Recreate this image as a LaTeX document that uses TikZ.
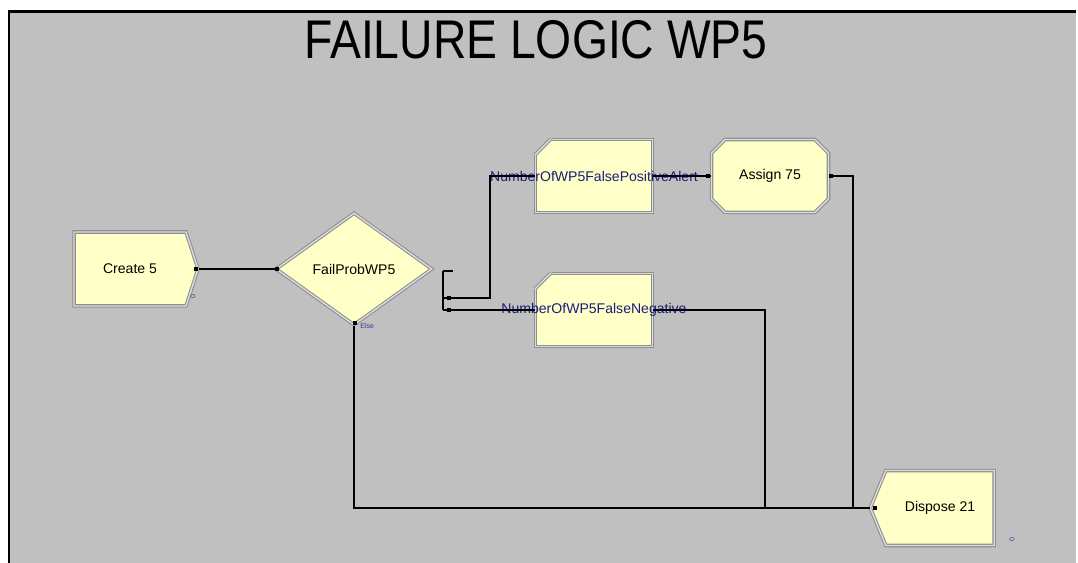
\documentclass[tikz,border=0pt]{standalone}
\usepackage{fontspec}
\setmainfont{Liberation Sans}
\usepackage{graphicx}
\usetikzlibrary{shapes.geometric,shapes.symbols,shapes.misc}

\definecolor{panel}{HTML}{C0C0C0}
\definecolor{modfill}{HTML}{FFFFC8}
\definecolor{modedge}{HTML}{8E8E8E}
\definecolor{modlight}{HTML}{DCDCDC}
\definecolor{namecol}{HTML}{1C1C7A}
\definecolor{countcol}{HTML}{3A3A9A}

\begin{document}
\begin{tikzpicture}[
    x=0.02cm, y=-0.02cm,
    edge3d/.style={draw=modedge, double=modlight, double distance=0.8pt, line width=0.6pt},
    module/.style={edge3d, fill=modfill, inner sep=0pt, font=\fontsize{8}{9}\selectfont},
    createbox/.style={module, signal, signal to=east, signal pointer angle=144,
                      minimum width=2.48cm, minimum height=1.48cm},
    disposebox/.style={module, signal, signal to=west, signal pointer angle=135,
                       minimum width=2.48cm, minimum height=1.50cm},
    decidebox/.style={module, diamond, minimum width=3.12cm, minimum height=2.24cm},
    recordbox/.style={module, rectangle, minimum width=2.34cm, minimum height=1.46cm},
    assignbox/.style={module, chamfered rectangle, chamfered rectangle xsep=4pt,
                      chamfered rectangle ysep=4pt, minimum width=2.34cm, minimum height=1.46cm},
    recname/.style={text=namecol, font=\fontsize{8}{9}\selectfont, inner sep=0pt},
    count/.style={text=countcol, font=\fontsize{4}{4}\selectfont, inner sep=0pt},
    link/.style={line width=1.1pt},
    dot/.style={fill=black, inner sep=0pt, minimum size=2.2pt}
]
\useasboundingbox (0,0) rectangle (1078,563);

% Panel
\fill[white] (0,0) rectangle (1078,563);
\fill[panel] (10,13) rectangle (1076,563);
\draw[line width=1.7pt] (9,563) -- (9,12) -- (1076,12);

% Title
\node (title) at (536,40) {\scalebox{0.85}[1]{\fontsize{31}{31}\selectfont FAILURE LOGIC WP5}};

% Modules
\node[createbox] (create) at (130,269) {Create 5};
\node[decidebox] (decide) at (354,269) {FailProbWP5};
\node[recordbox] (rec1) at (594,176) {};
\node[recordbox] (rec2) at (594,310) {};
\node[assignbox] (assign) at (770,176) {Assign 75};
\node[disposebox] (dispose) at (940,508) {Dispose 21};

% Cut corner of the record modules
\foreach \r in {rec1,rec2}{
  \fill[panel] (\r.north west) ++(-3,-3) -- ++(22,0) -- ++(-22,22) -- cycle;
  \draw[edge3d] (\r.north west) ++(16,0) -- ++(-16,16);
}

% Record names
\node[recname] (rec1name) at (rec1.center) {NumberOfWP5FalsePositiveAlert};
\node[recname] (rec2name) at (rec2.center) {NumberOfWP5FalseNegative};

% Counters
\node[count, rotate=90] (createcnt) at (193,297) {0};
\node[count, rotate=90] (disposecnt) at (1012,540) {0};
\node[count, anchor=west] (elsename) at (360,326) {Else};

% Exit points of the decide module
\coordinate (bus) at (443,271);
\coordinate (ex1) at (443,298);
\coordinate (ex2) at (443,310);
\coordinate (j1) at (765,508);
\coordinate (j2) at (853,508);
\draw[link] (bus) -- ++(10,0);
\draw[link] (bus) -- (ex2);

% Connections
\draw[link] (create.east) -- (decide.west);
\draw[link] (ex1) -- (490,298) |- (rec1.west);
\draw[link] (rec1.east) -- (assign.west);
\draw[link] (ex2) -- (rec2.west);
\draw[link] (rec2.east) -| (j1);
\draw[link] (assign.east) -| (j2);
\draw[link] (decide.south) |- (dispose.west);

% Connection dots
\node[dot] at (196,269) {};
\node[dot] at (277,269) {};
\node[dot] at (355,323) {};
\node[dot] at (449,298) {};
\node[dot] at (449,310) {};
\node[dot] at (708,176) {};
\node[dot] at (831,176) {};
\node[dot] at (875,508) {};
\end{tikzpicture}
\end{document}
